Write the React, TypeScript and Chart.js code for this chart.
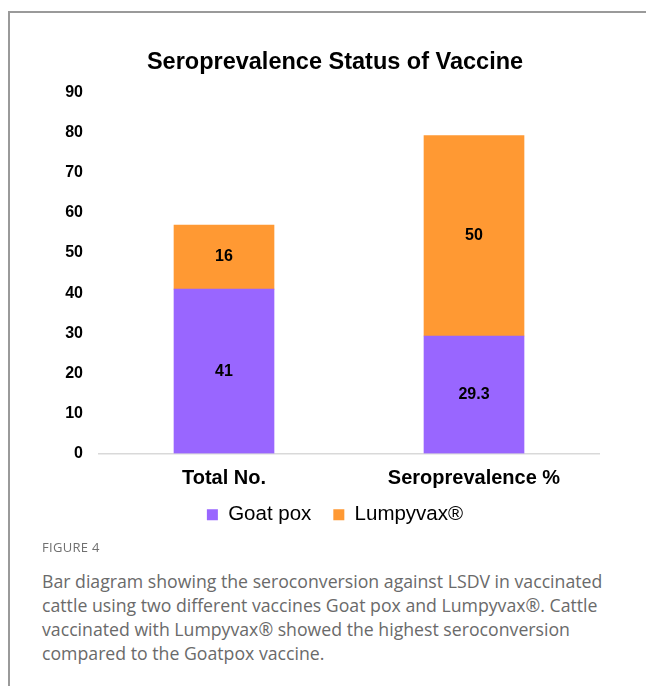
import React, { useEffect, useRef } from "react";
import { Chart, registerables } from "chart.js";

Chart.register(...registerables);

const categories = ["Total No.", "Seroprevalence %"];
const goatPox = [41, 29.3];
const lumpyvax = [16, 50];
const seriesNames = ["Goat pox", "Lumpyvax®"];
const yTicks = [0, 10, 20, 30, 40, 50, 60, 70, 80, 90];
const titleText = "Seroprevalence Status of Vaccine";
const captionLabel = "FIGURE 4";
const captionLines = [
  "Bar diagram showing the seroconversion against LSDV in vaccinated",
  "cattle using two different vaccines Goat pox and Lumpyvax®. Cattle",
  "vaccinated with Lumpyvax® showed the highest seroconversion",
  "compared to the Goatpox vaccine.",
];

const PURPLE = "#9966ff";
const ORANGE = "#ff9933";
const FONT = "'Liberation Sans', Arial, sans-serif";

const valueLabels = {
  id: "valueLabels",
  afterDatasetsDraw(chart: any) {
    const ctx = chart.ctx;
    ctx.save();
    ctx.font = "bold 16px " + FONT;
    ctx.fillStyle = "#000";
    ctx.textAlign = "center";
    ctx.textBaseline = "middle";
    chart.data.datasets.forEach((ds: any, di: number) => {
      const meta = chart.getDatasetMeta(di);
      meta.data.forEach((el: any, i: number) => {
        const v = ds.data[i];
        const props = el.getProps(["x", "y", "base"], true);
        ctx.fillText(String(v), props.x, (props.y + props.base) / 2);
      });
    });
    ctx.restore();
  },
};

// pull the legend up closer to the category labels
const legendShift = {
  id: "legendShift",
  afterLayout(chart: any) {
    const l = chart.legend;
    if (!l) return;
    l.top -= 15;
    l.bottom -= 15;
    if (l.legendHitBoxes) l.legendHitBoxes.forEach((h: any) => (h.top -= 15));
  },
};

function BarChart() {
  const ref = useRef<HTMLCanvasElement | null>(null);
  useEffect(() => {
    if (!ref.current) return;
    const chart = new Chart(ref.current, {
      type: "bar",
      data: {
        labels: categories,
        datasets: [
          { label: seriesNames[0], data: goatPox, backgroundColor: PURPLE, barThickness: 100 },
          { label: seriesNames[1], data: lumpyvax, backgroundColor: ORANGE, barThickness: 100 },
        ],
      },
      options: {
        animation: false,
        responsive: false,
        maintainAspectRatio: false,
        layout: { padding: { left: 24, right: 0, top: 0, bottom: 0 } },
        plugins: {
          title: {
            display: true,
            text: titleText,
            color: "#000",
            font: { family: FONT, size: 23.5, weight: "bold", lineHeight: 1.2 },
            padding: { top: 48, bottom: 16.5 },
          },
          legend: {
            position: "bottom",
            labels: {
              color: "#000",
              boxWidth: 11,
              boxHeight: 11,
              padding: 22,
              font: { family: FONT, size: 20.5 },
            },
          },
          tooltip: { enabled: false },
        },
        scales: {
          x: {
            stacked: true,
            grid: { display: false, drawTicks: false },
            border: { display: true, color: "#d9d9d9", width: 1.5 },
            ticks: {
              color: "#000",
              padding: 13,
              font: { family: FONT, size: 20, weight: "bold" },
            },
            afterFit(scale: any) {
              scale.height = 44;
            },
          },
          y: {
            stacked: true,
            min: 0,
            max: 90,
            grid: { display: false, drawTicks: false },
            border: { display: false },
            afterBuildTicks(scale: any) {
              scale.ticks = yTicks.map((v) => ({ value: v }));
            },
            ticks: {
              color: "#000",
              padding: 16,
              font: { family: FONT, size: 16, weight: "bold" },
            },
            afterFit(scale: any) {
              scale.width = 75;
            },
          },
          yRight: {
            position: "right",
            display: true,
            min: 0,
            max: 90,
            grid: { display: false, drawTicks: false },
            border: { display: false },
            ticks: { display: false },
            afterFit(scale: any) {
              scale.width = 47;
            },
          },
        },
      },
      plugins: [valueLabels, legendShift],
    } as any);
    return () => chart.destroy();
  }, []);
  return (
    <canvas
      ref={ref}
      width={646}
      height={550}
      style={{ position: "absolute", left: 0, top: 0, width: 646, height: 550 }}
    />
  );
}

export default function App() {
  return (
    <div
      style={{
        position: "fixed",
        left: 0,
        top: 0,
        width: 646,
        height: 686,
        background: "#fff",
        overflow: "hidden",
      }}
    >
      <BarChart />
      <div style={{ position: "absolute", left: 8, top: 11, width: 638, height: 1.5, background: "#9a9a9a" }} />
      <div style={{ position: "absolute", left: 8, top: 11, width: 1.5, height: 675, background: "#9a9a9a" }} />
      <div
        style={{
          position: "absolute",
          left: 42,
          top: 538,
          fontFamily: "'Open Sans', sans-serif",
          fontSize: 13,
          color: "#707070",
          letterSpacing: 0.3,
          lineHeight: "18px",
        }}
      >
        {captionLabel}
      </div>
      <div
        style={{
          position: "absolute",
          left: 42,
          top: 569,
          fontFamily: "'Open Sans', sans-serif",
          fontSize: 17.7,
          color: "#6a6a6a",
          lineHeight: "24px",
          whiteSpace: "nowrap",
        }}
      >
        {captionLines.map((l, i) => (
          <div key={i}>{l}</div>
        ))}
      </div>
    </div>
  );
}
